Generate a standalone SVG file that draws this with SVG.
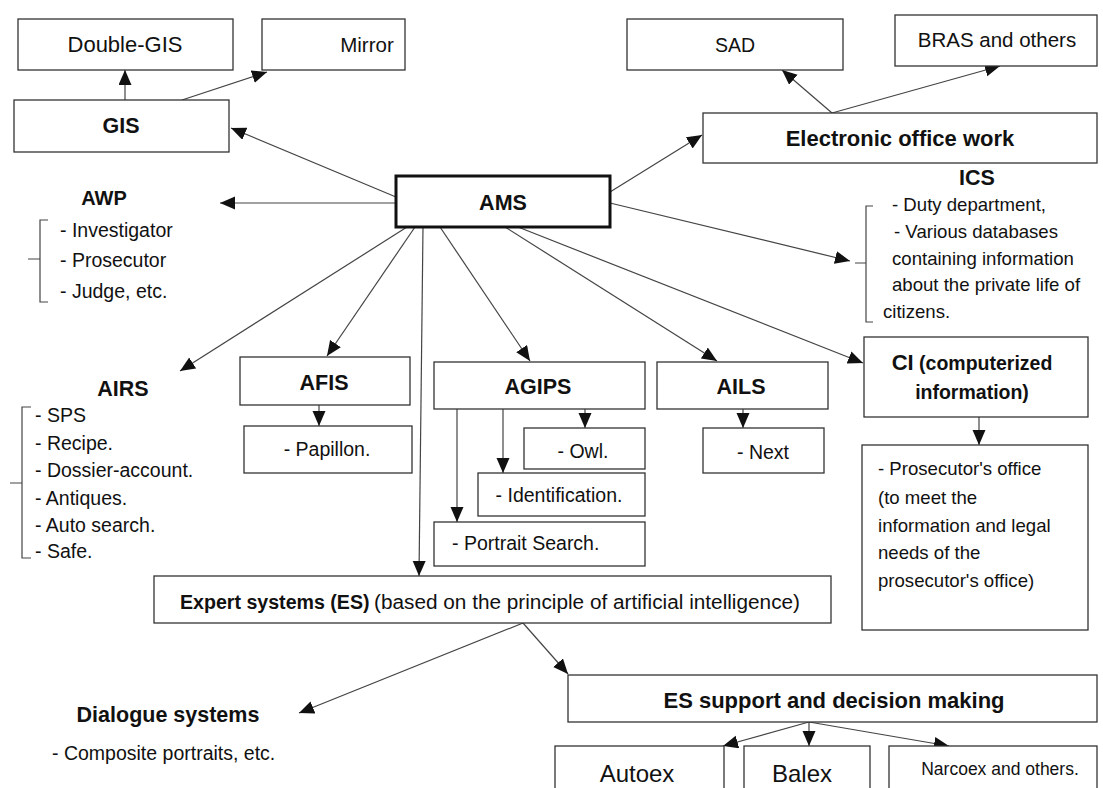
<svg xmlns="http://www.w3.org/2000/svg" width="1103" height="788" viewBox="0 0 1103 788">
<defs>
<style>
text{font-family:"Liberation Sans",Arial,sans-serif;fill:#111;}
.b{font-weight:bold;font-size:21.5px;}
.r{font-size:19.5px;}
.box{fill:#fff;stroke:#333;stroke-width:1.3;}
.main{fill:#fff;stroke:#111;stroke-width:3;}
.c{fill:none;stroke:#444;stroke-width:1.2;}
.br{fill:none;stroke:#444;stroke-width:1.2;}
.m{text-anchor:middle;}
.s{font-size:18.6px;}
</style>
<marker id="ah" markerUnits="userSpaceOnUse" markerWidth="16" markerHeight="14" refX="15" refY="6.5" orient="auto">
<path d="M0,0 L15,6.5 L0,13 z" fill="#111"/>
</marker>
</defs>
<rect width="1103" height="788" fill="#fff"/>

<g id="connectors">
<line class="c" x1="125" y1="100" x2="125" y2="70" marker-end="url(#ah)"/>
<line class="c" x1="182" y1="100" x2="267" y2="72" marker-end="url(#ah)"/>
<line class="c" x1="832" y1="113" x2="782" y2="70" marker-end="url(#ah)"/>
<line class="c" x1="832" y1="113" x2="1000" y2="66" marker-end="url(#ah)"/>
<line class="c" x1="396" y1="197" x2="231" y2="128" marker-end="url(#ah)"/>
<line class="c" x1="610" y1="192" x2="702" y2="135" marker-end="url(#ah)"/>
<line class="c" x1="396" y1="203" x2="220" y2="203" marker-end="url(#ah)"/>
<line class="c" x1="610" y1="203" x2="850" y2="261" marker-end="url(#ah)"/>
<line class="c" x1="407" y1="227" x2="180" y2="371" marker-end="url(#ah)"/>
<line class="c" x1="415" y1="227" x2="327" y2="356" marker-end="url(#ah)"/>
<line class="c" x1="423" y1="227" x2="419" y2="576" marker-end="url(#ah)"/>
<line class="c" x1="440" y1="227" x2="530" y2="361" marker-end="url(#ah)"/>
<line class="c" x1="505" y1="227" x2="717" y2="361" marker-end="url(#ah)"/>
<line class="c" x1="518" y1="227" x2="863" y2="363" marker-end="url(#ah)"/>
<line class="c" x1="319" y1="405" x2="319" y2="426" marker-end="url(#ah)"/>
<line class="c" x1="585" y1="409" x2="585" y2="428" marker-end="url(#ah)"/>
<line class="c" x1="503" y1="409" x2="503" y2="473" marker-end="url(#ah)"/>
<line class="c" x1="457" y1="409" x2="457" y2="522" marker-end="url(#ah)"/>
<line class="c" x1="743" y1="409" x2="743" y2="428" marker-end="url(#ah)"/>
<line class="c" x1="979" y1="417" x2="979" y2="445" marker-end="url(#ah)"/>
<line class="c" x1="523" y1="623" x2="299" y2="713" marker-end="url(#ah)"/>
<line class="c" x1="523" y1="623" x2="568" y2="674" marker-end="url(#ah)"/>
<line class="c" x1="809" y1="722" x2="723" y2="746" marker-end="url(#ah)"/>
<line class="c" x1="809" y1="722" x2="809" y2="746" marker-end="url(#ah)"/>
<line class="c" x1="809" y1="722" x2="949" y2="746" marker-end="url(#ah)"/>
</g>

<g id="double-gis"><rect class="box" x="18" y="19" width="215" height="51"/><text class="r m" x="125" y="52" style="font-size:22px">Double-GIS</text></g>
<g id="mirror"><rect class="box" x="262" y="19" width="143" height="51"/><text class="r m" x="367" y="52" style="font-size:20.5px">Mirror</text></g>
<g id="gis"><rect class="box" x="14" y="100" width="215" height="52"/><text class="b m" x="121" y="133">GIS</text></g>
<g id="sad"><rect class="box" x="627" y="19" width="216" height="51"/><text class="r m" x="735" y="52">SAD</text></g>
<g id="bras"><rect class="box" x="895" y="15" width="202" height="51"/><text class="r m" x="997" y="47" style="font-size:20.5px">BRAS and others</text></g>
<g id="eow"><rect class="box" x="703" y="113" width="394" height="50"/><text class="b m" x="900" y="146" style="font-size:22px">Electronic office work</text></g>
<g id="ams"><rect class="main" x="396" y="176" width="214" height="51"/><text class="b m" x="503" y="210">AMS</text></g>

<g id="awp">
<text class="b m" x="104" y="205" style="font-size:20px">AWP</text>
<path class="br" d="M48,220 H40 V302 H48 M28,259 H40"/>
<text class="r" x="60" y="237">- Investigator</text>
<text class="r" x="60" y="267">- Prosecutor</text>
<text class="r" x="60" y="298">- Judge, etc.</text>
</g>

<g id="ics">
<text class="b m" x="977" y="185">ICS</text>
<path class="br" d="M873,206 H866 V322 H873 M855,263 H866"/>
<text class="r s" x="892" y="211">- Duty department,</text>
<text class="r s" x="894" y="238">- Various databases</text>
<text class="r s" x="892" y="265">containing information</text>
<text class="r s" x="892" y="291">about the private life of</text>
<text class="r s" x="883" y="318">citizens.</text>
</g>

<g id="airs">
<text class="b m" x="123" y="396">AIRS</text>
<path class="br" d="M31,407 H22 V558 H31 M10,483 H22"/>
<text class="r" x="35" y="422">- SPS</text>
<text class="r" x="35" y="450">- Recipe.</text>
<text class="r" x="35" y="477">- Dossier-account.</text>
<text class="r" x="35" y="505">- Antiques.</text>
<text class="r" x="35" y="532">- Auto search.</text>
<text class="r" x="35" y="558">- Safe.</text>
</g>

<g id="afis"><rect class="box" x="240" y="357" width="170" height="48"/><text class="b m" x="324" y="390">AFIS</text></g>
<g id="papillon"><rect class="box" x="244" y="426" width="168" height="47"/><text class="r m" x="327" y="456">- Papillon.</text></g>
<g id="agips"><rect class="box" x="434" y="362" width="211" height="47"/><text class="b m" x="538" y="394">AGIPS</text></g>
<g id="owl"><rect class="box" x="524" y="428" width="121" height="41"/><text class="r m" x="583" y="458">- Owl.</text></g>
<g id="identification"><rect class="box" x="478" y="473" width="167" height="43"/><text class="r m" x="559" y="502">- Identification.</text></g>
<g id="portrait"><rect class="box" x="434" y="522" width="211" height="44"/><text class="r" x="452" y="550">- Portrait Search.</text></g>
<g id="ails"><rect class="box" x="657" y="362" width="171" height="47"/><text class="b m" x="741" y="394">AILS</text></g>
<g id="next"><rect class="box" x="703" y="428" width="121" height="45"/><text class="r m" x="763" y="459">- Next</text></g>

<g id="ci"><rect class="box" x="864" y="337" width="224" height="80"/>
<text class="m" x="972" y="370"><tspan style="font-weight:bold;font-size:22px">CI</tspan><tspan style="font-weight:bold;font-size:19.5px"> (computerized</tspan></text>
<text class="m" x="972" y="399" style="font-weight:bold;font-size:19.5px">information)</text>
</g>
<g id="prosecutors-office"><rect class="box" x="862" y="445" width="226" height="185"/>
<text class="r s" x="878" y="475">- Prosecutor's office</text>
<text class="r s" x="878" y="504">(to meet the</text>
<text class="r s" x="878" y="532">information and legal</text>
<text class="r s" x="878" y="559">needs of the</text>
<text class="r s" x="878" y="587">prosecutor's office)</text>
</g>

<g id="es"><rect class="box" x="154" y="576" width="677" height="47"/>
<text x="180" y="609" style="font-weight:bold;font-size:19.6px">Expert systems (ES)</text>
<text x="374" y="609" style="font-size:20px" textLength="426" lengthAdjust="spacingAndGlyphs">(based on the principle of artificial intelligence)</text>
</g>

<g id="dialogue">
<text class="b m" x="168" y="722">Dialogue systems</text>
<text class="r" x="52" y="760">- Composite portraits, etc.</text>
</g>

<g id="es-support"><rect class="box" x="568" y="675" width="529" height="47"/><text class="b m" x="834" y="708" style="font-size:22px">ES support and decision making</text></g>
<g id="autoex"><rect class="box" x="555" y="746" width="169" height="50"/><text class="r m" x="637" y="782" style="font-size:24px">Autoex</text></g>
<g id="balex"><rect class="box" x="744" y="746" width="126" height="50"/><text class="r m" x="802" y="782" style="font-size:24px">Balex</text></g>
<g id="narcoex"><rect class="box" x="889" y="746" width="208" height="50"/><text class="r m" x="1000" y="775" style="font-size:17.5px">Narcoex and others.</text></g>
</svg>
